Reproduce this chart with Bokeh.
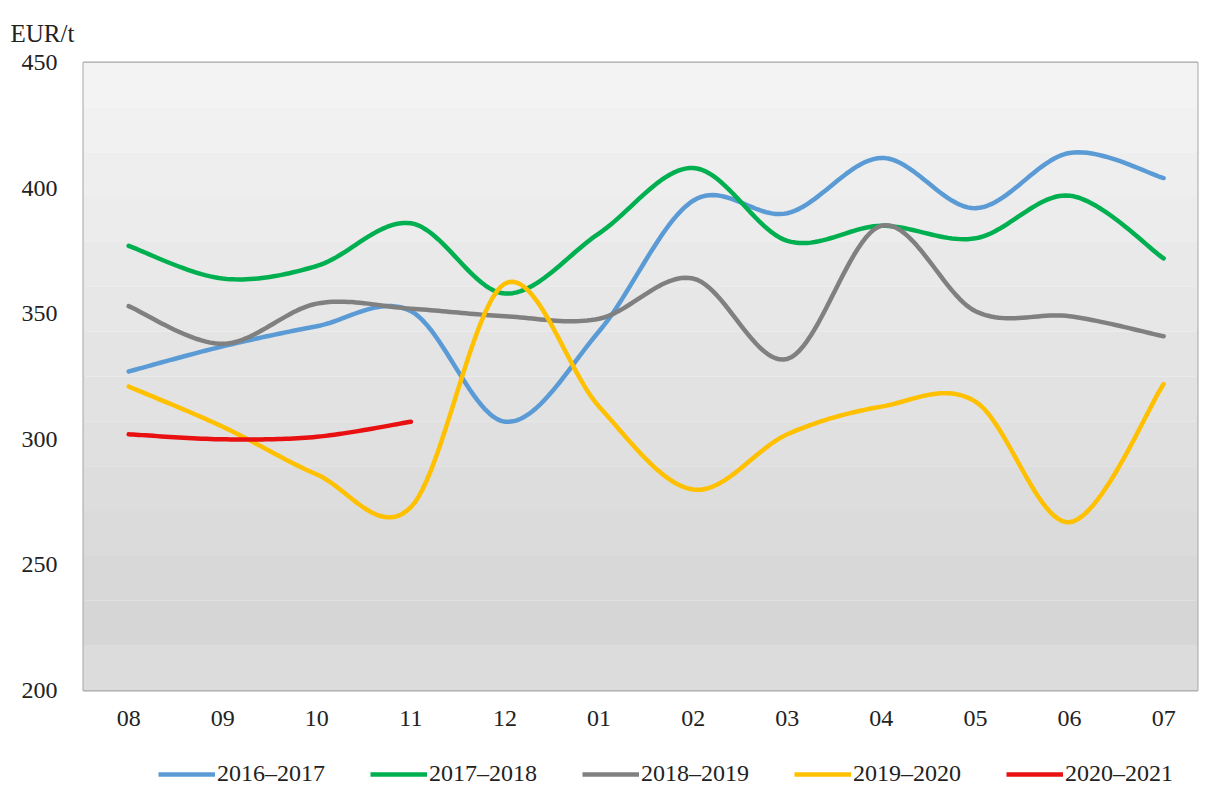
import numpy as np
from bokeh.plotting import figure
from bokeh.layouts import column
from bokeh.models import Range1d, FixedTicker, Legend, LegendItem
from bokeh.embed import file_html
from bokeh.resources import INLINE

months = ["08", "09", "10", "11", "12", "01", "02", "03", "04", "05", "06", "07"]
y_ticks = [200, 250, 300, 350, 400, 450]

s2016_2017 = [327, 337, 345, 351, 307, 343, 395, 390, 412, 392, 414, 404]
s2017_2018 = [377, 364, 369, 386, 358, 382, 408, 379, 385, 380, 397, 372]
s2018_2019 = [353, 338, 354, 352, 349, 348, 364, 332, 385, 351, 349, 341]
s2019_2020 = [321, 305, 286, 273, 362, 313, 280, 302, 313, 315, 267, 322]
s2020_2021 = [302, 300, 301, 307]

series = [
    ("2016–2017", s2016_2017, "#5b9bd5"),
    ("2017–2018", s2017_2018, "#00b050"),
    ("2018–2019", s2018_2019, "#808080"),
    ("2019–2020", s2019_2020, "#ffc000"),
    ("2020–2021", s2020_2021, "#e81010"),
]

FONT = "Liberation Serif"
TOTAL_W = 1207


def smooth(ys, n=24):
    """Catmull-Rom (Excel-like) smoothing through the data points."""
    xs = np.arange(len(ys), dtype=float)
    ys = np.asarray(ys, dtype=float)
    P = np.column_stack([xs, ys])
    Pext = np.vstack([P[0], P, P[-1]])
    out = []
    for i in range(len(P) - 1):
        p0, p1, p2, p3 = Pext[i], Pext[i + 1], Pext[i + 2], Pext[i + 3]
        c1 = p1 + (p2 - p0) / 6.0
        c2 = p2 - (p3 - p1) / 6.0
        t = np.linspace(0, 1, n, endpoint=(i == len(P) - 2))[:, None]
        b = ((1 - t) ** 3) * p1 + 3 * ((1 - t) ** 2) * t * c1 + 3 * (1 - t) * t * t * c2 + (t ** 3) * p2
        out.append(b)
    out = np.vstack(out)
    return out[:, 0], out[:, 1]


p = figure(
    frame_width=1114, frame_height=628,
    x_range=Range1d(-0.48, 11.36), y_range=Range1d(200, 450),
    output_backend="svg", toolbar_location=None,
    min_border_left=83, min_border_right=10, min_border_top=62, min_border_bottom=50,
    background_fill_color="white", border_fill_color="white",
)

# banded gradient background (Excel-like)
nb = 14
edges = np.linspace(200, 450, nb + 1)
top_c = np.array([0xf3, 0xf3, 0xf3])
bot_c = np.array([0xd6, 0xd6, 0xd6])
cols = []
for i in range(nb):
    if i == 0:
        c = np.array([0xdc, 0xdc, 0xdc])
    else:
        f = (i - 1) / (nb - 2)
        c = bot_c + (top_c - bot_c) * f
    cols.append("#%02x%02x%02x" % tuple(int(round(v)) for v in c))
p.quad(left=-1, right=12, bottom=edges[:-1], top=edges[1:], fill_color=cols, line_color=None)

p.outline_line_color = "#a6a6a6"
p.outline_line_width = 2

p.xgrid.visible = False
p.ygrid.ticker = FixedTicker(ticks=y_ticks)
p.ygrid.grid_line_color = "#cfcfcf"
p.ygrid.grid_line_width = 1
p.ygrid.level = "underlay"

for name, vals, col in series:
    sx, sy = smooth(vals)
    p.line(sx, sy, line_color=col, line_width=4.5, line_cap="round", line_join="round")

p.xaxis.ticker = FixedTicker(ticks=list(range(len(months))))
p.xaxis.major_label_overrides = {i: m for i, m in enumerate(months)}
p.yaxis.ticker = FixedTicker(ticks=y_ticks)
for ax in (p.xaxis[0], p.yaxis[0]):
    ax.axis_line_color = None
    ax.major_tick_line_color = None
    ax.minor_tick_line_color = None
    ax.major_label_text_font = FONT
    ax.major_label_text_font_size = "24px"
    ax.major_label_text_color = "#222222"
p.xaxis.major_label_standoff = 14
p.yaxis.major_label_standoff = 20

p.title.text = "EUR/t"
p.title.text_font = FONT
p.title.text_font_size = "25px"
p.title.text_font_style = "normal"
p.title.text_color = "#222222"
p.title.align = "left"
p.title.offset = -73
p.title.text_line_height = 0.8
p.title.standoff = 32

# legend strip as its own small figure below the chart (frames are aligned by the column)
lg = figure(
    width=TOTAL_W, height=47,
    x_range=Range1d(0, 1), y_range=Range1d(0, 1),
    output_backend="svg", toolbar_location=None,
    x_axis_location=None, y_axis_location=None,
    min_border_left=0, min_border_right=0, min_border_top=0, min_border_bottom=0,
    background_fill_color="white", border_fill_color="white",
)
lg.outline_line_color = None
lg.grid.visible = False
items = []
for name, vals, col in series:
    # off-range stub renderer; only its legend glyph is seen
    r = lg.line(x=[-5, -4], y=[-5, -4], line_color=col, line_width=4.5)
    items.append(LegendItem(label=name, renderers=[r]))

legend = Legend(items=items, orientation="horizontal", location=(75, 0))
legend.glyph_width = 57
legend.glyph_height = 20
legend.label_standoff = 2
legend.spacing = 45
legend.padding = 0
legend.margin = 0
legend.border_line_color = None
legend.background_fill_alpha = 0
legend.label_text_font = FONT
legend.label_text_font_size = "24px"
legend.label_text_color = "#222222"
lg.add_layout(legend, "center")

layout = column(p, lg, spacing=0)
open("out.html", "w").write(file_html(layout, INLINE))
